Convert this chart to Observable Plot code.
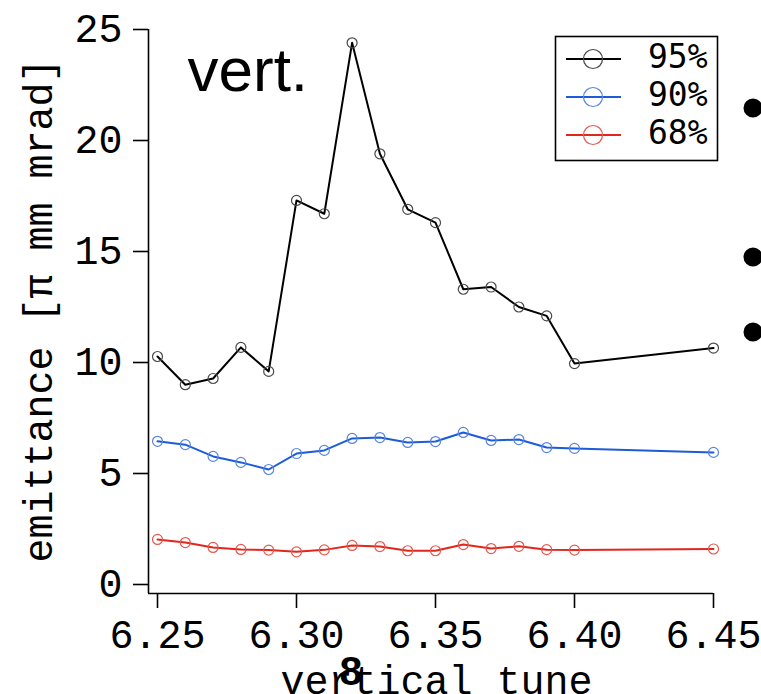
<!DOCTYPE html>
<html><head><meta charset="utf-8">
<script src="https://cdn.jsdelivr.net/npm/d3@7"></script>
<script src="https://cdn.jsdelivr.net/npm/@observablehq/plot@0.6"></script>
<style>
html,body{margin:0;padding:0;background:#fff;}
#wrap{position:relative;width:761px;height:694px;overflow:hidden;background:#fff;}
#overlay{position:absolute;left:0;top:0;pointer-events:none;}
</style></head><body><div id="wrap"></div>
<script>
// ---- data ----
const tunes = [6.25, 6.26, 6.27, 6.28, 6.29, 6.30, 6.31, 6.32, 6.33, 6.34, 6.35, 6.36, 6.37, 6.38, 6.39, 6.40, 6.45];
const series = ["95%", "90%", "68%"];
const e95 = [10.27, 9.0, 9.28, 10.68, 9.6, 17.3, 16.7, 24.4, 19.4, 16.9, 16.3, 13.3, 13.4, 12.5, 12.1, 9.95, 10.65];
const e90 = [6.45, 6.3, 5.77, 5.5, 5.18, 5.9, 6.04, 6.58, 6.62, 6.4, 6.44, 6.85, 6.49, 6.53, 6.17, 6.13, 5.95];
const e68 = [2.03, 1.89, 1.67, 1.58, 1.55, 1.47, 1.56, 1.76, 1.71, 1.52, 1.52, 1.8, 1.62, 1.72, 1.57, 1.55, 1.6];
const yTicks = [0, 5, 10, 15, 20, 25];
const xTicks = [6.25, 6.30, 6.35, 6.40, 6.45];
const yLabel = "emittance [π mm mrad]";
const xLabel = "vertical tune";
const title = "vert.";
const pageNumber = "8";

// ---- styles ----
const lineColors = ["#000000", "#1c5bd9", "#e1261c"];
const markerColors = ["#4a4a4a", "#5a86de", "#e35a4e"];
const mono = "'Liberation Mono', 'DejaVu Sans Mono', monospace";
const sans = "'Liberation Sans', Arial, sans-serif";

const valuesBySeries = [e95, e90, e68];
const data = series.flatMap((s, i) => tunes.map((t, j) => ({series: s, tune: t, value: valuesBySeries[i][j]})));

const chart = Plot.plot({
  width: 761, height: 694,
  marginLeft: 148, marginRight: 48, marginTop: 29, marginBottom: 101,
  style: {background: "white", overflow: "visible", color: "#000"},
  x: {domain: [6.25, 6.45], insetLeft: 9},
  y: {domain: [0, 25], insetBottom: 9},
  color: {domain: series, range: lineColors},
  marks: [
    Plot.ruleY([0], {dy: 9, stroke: "#000", strokeWidth: 1.6}),
    Plot.ruleX([6.25], {dx: -9, stroke: "#000", strokeWidth: 1.6}),
    Plot.axisY({ticks: yTicks, tickSize: 15, tickPadding: 11, fontSize: 40, fontFamily: mono, label: null, tickFormat: d3.format("d"), strokeWidth: 1.6}),
    Plot.axisX({ticks: xTicks, tickSize: 15, tickPadding: 11, fontSize: 40, fontFamily: mono, label: null, tickFormat: d3.format(".2f"), strokeWidth: 1.6}),
    Plot.line(data, {x: "tune", y: "value", stroke: "series", strokeWidth: 2}),
    ...series.map((s, i) => Plot.dot(data.filter(d => d.series === s), {x: "tune", y: "value", r: 5, fill: "none", stroke: markerColors[i], strokeWidth: 1.2})),
    Plot.text([yLabel], {frameAnchor: "left", rotate: -90, dx: -109, dy: -1, fontSize: 40, fontFamily: mono, lineAnchor: "middle", textAnchor: "middle", fill: "#000"}),
    Plot.text([xLabel], {frameAnchor: "bottom", dx: 5.5, dy: 100, fontSize: 40, fontFamily: mono, lineAnchor: "bottom", textAnchor: "middle", fill: "#000"}),
    Plot.text([title], {frameAnchor: "top-left", dx: 39, dy: 61, fontSize: 62, fontFamily: sans, lineAnchor: "bottom", textAnchor: "start", fill: "#000"})
  ]
});
document.getElementById("wrap").appendChild(chart);

// ---- overlay: legend, slide bullets, page number ----
const ov = d3.select("#wrap").append("svg").attr("id", "overlay").attr("width", 761).attr("height", 694);
ov.append("rect").attr("x", 555.5).attr("y", 36.5).attr("width", 162).attr("height", 124)
  .attr("fill", "white").attr("stroke", "#000").attr("stroke-width", 1.6);
series.forEach((s, i) => {
  const y = 59 + i * 38;
  ov.append("line").attr("x1", 566).attr("x2", 621).attr("y1", y).attr("y2", y)
    .attr("stroke", lineColors[i]).attr("stroke-width", 2);
  ov.append("circle").attr("cx", 593).attr("cy", y).attr("r", 9.5)
    .attr("fill", "none").attr("stroke", markerColors[i]).attr("stroke-width", 1.2);
  ov.append("text").attr("x", 648).attr("y", y + 9).text(s)
    .attr("font-family", "'DejaVu Sans Mono', monospace").attr("font-size", 33).attr("fill", "#000");
});
[108, 257, 332].forEach(cy => ov.append("circle").attr("cx", 753).attr("cy", cy).attr("r", 9.5).attr("fill", "#000"));
ov.append("text").attr("x", 351).attr("y", 685).attr("text-anchor", "middle").text(pageNumber)
  .attr("font-family", sans).attr("font-weight", "bold").attr("font-size", 41).attr("fill", "#000");
</script></body></html>
